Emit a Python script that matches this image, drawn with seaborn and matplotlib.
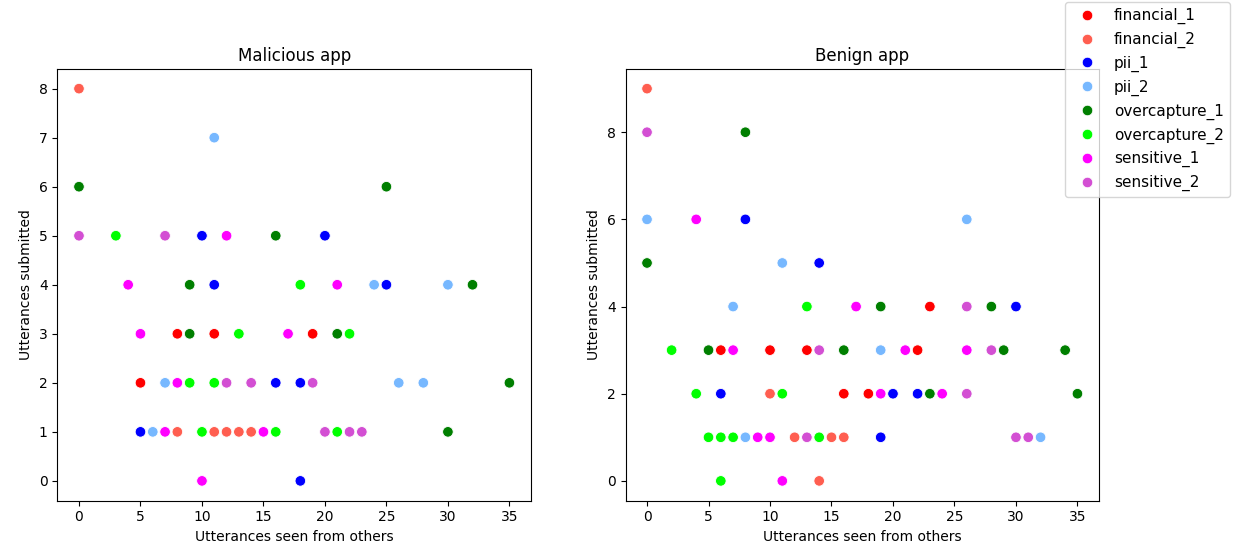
import pandas as pd
import seaborn as sns
import matplotlib.pyplot as plt

# categories in legend order, with their colours
categories = ['financial_1', 'financial_2', 'pii_1', 'pii_2',
              'overcapture_1', 'overcapture_2', 'sensitive_1', 'sensitive_2']
colors = ['#ff0000', '#ff5e50', '#0000ff', '#77b8ff',
          '#007f00', '#00ff00', '#ff00ff', '#d34fd3']

# Malicious app: (seen from others, submitted) per category
mal_x = {
    'financial_1': [8, 11, 19, 5],
    'financial_2': [0, 8, 11, 12, 13, 14],
    'pii_1': [10, 20, 11, 25, 16, 18, 5, 18],
    'pii_2': [11, 24, 30, 7, 26, 28, 6],
    'overcapture_1': [0, 25, 16, 9, 32, 9, 21, 35, 30],
    'overcapture_2': [3, 18, 13, 22, 9, 11, 10, 16, 21],
    'sensitive_1': [12, 4, 21, 5, 17, 8, 7, 15, 10],
    'sensitive_2': [0, 7, 12, 14, 19, 20, 22, 23],
}
mal_y = {
    'financial_1': [3, 3, 3, 2],
    'financial_2': [8, 1, 1, 1, 1, 1],
    'pii_1': [5, 5, 4, 4, 2, 2, 1, 0],
    'pii_2': [7, 4, 4, 2, 2, 2, 1],
    'overcapture_1': [6, 6, 5, 4, 4, 3, 3, 2, 1],
    'overcapture_2': [5, 4, 3, 3, 2, 2, 1, 1, 1],
    'sensitive_1': [5, 4, 4, 3, 3, 2, 1, 1, 0],
    'sensitive_2': [5, 5, 2, 2, 2, 1, 1, 1],
}

# Benign app
ben_x = {
    'financial_1': [6, 10, 13, 16, 18, 23, 22],
    'financial_2': [0, 10, 12, 15, 16, 14],
    'pii_1': [8, 14, 6, 30, 20, 22, 19],
    'pii_2': [0, 11, 7, 26, 8, 19, 32],
    'overcapture_1': [8, 0, 5, 16, 19, 28, 29, 34, 23, 35],
    'overcapture_2': [13, 2, 4, 11, 5, 6, 7, 14, 6],
    'sensitive_1': [4, 7, 17, 21, 26, 19, 24, 9, 10, 11],
    'sensitive_2': [0, 14, 26, 28, 26, 13, 30, 31],
}
ben_y = {
    'financial_1': [3, 3, 3, 2, 2, 4, 3],
    'financial_2': [9, 2, 1, 1, 1, 0],
    'pii_1': [6, 5, 2, 4, 2, 2, 1],
    'pii_2': [6, 5, 4, 6, 1, 3, 1],
    'overcapture_1': [8, 5, 3, 3, 4, 4, 3, 3, 2, 2],
    'overcapture_2': [4, 3, 2, 2, 1, 1, 1, 1, 0],
    'sensitive_1': [6, 3, 4, 3, 3, 2, 2, 1, 1, 0],
    'sensitive_2': [8, 3, 4, 3, 2, 1, 1, 1],
}


def to_frame(xs, ys):
    rows = []
    for cat in categories:
        for x, y in zip(xs[cat], ys[cat]):
            rows.append({'seen': x, 'submitted': y, 'category': cat})
    return pd.DataFrame(rows)


palette = dict(zip(categories, colors))

fig, (ax1, ax2) = plt.subplots(1, 2, figsize=(12.33, 5.5), dpi=100)
ax1.set_position([0.0466, 0.09, 0.384, 0.7845])
ax2.set_position([0.5073, 0.09, 0.384, 0.7845])

for ax, xs, ys, title in [(ax1, mal_x, mal_y, 'Malicious app'),
                          (ax2, ben_x, ben_y, 'Benign app')]:
    df = to_frame(xs, ys)
    sns.scatterplot(data=df, x='seen', y='submitted', hue='category',
                    hue_order=categories, palette=palette, s=58, ax=ax)
    ax.set_title(title)
    ax.set_xlabel('Utterances seen from others')
    ax.set_ylabel('Utterances submitted')
    ax.set_xticks(range(0, 36, 5))

ax1.set_yticks(range(0, 9))
ax2.set_yticks(range(0, 10, 2))

handles, labels = ax1.get_legend_handles_labels()
ax1.get_legend().remove()
ax2.get_legend().remove()
fig.legend(handles, labels, loc='upper right', bbox_to_anchor=(0.9976, 0.9964),
           borderaxespad=0, fontsize=11)

fig.savefig('out.png')
